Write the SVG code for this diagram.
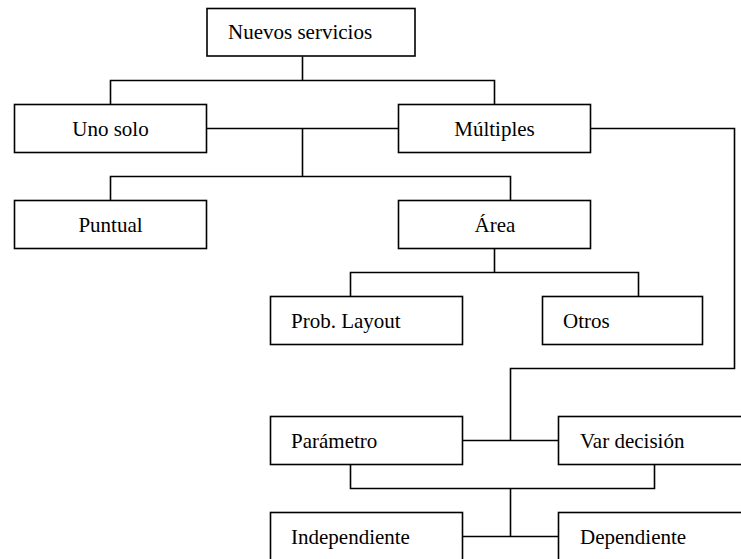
<svg xmlns="http://www.w3.org/2000/svg" width="741" height="559" viewBox="0 0 741 559">
<style>
rect{fill:#fff;stroke:#000;stroke-width:1.6}
.c path{fill:none;stroke:#000;stroke-width:1.6}
text{font-size:21px;fill:#000}
.m{text-anchor:middle}
</style>
<rect x="0" y="0" width="741" height="559" style="stroke:none"/>
<g class="c" id="connectors">
<path d="M302.5,56.5V80.5M110.5,104.5V80.5H494.5V104.5"/>
<path d="M206.5,128.5H398.5M302.5,128.5V176.5M110.5,200.5V176.5H510.5V200.5"/>
<path d="M494.5,248.5V272.5M350.5,296.5V272.5H638.5V296.5"/>
<path d="M590.5,128.5H734.5V368.5H510.5V440.5M462.5,440.5H558.5"/>
<path d="M350.5,464.5V488.5H654.5V464.5M510.5,488.5V536.5M462.5,536.5H558.5"/>
</g>
<g font-family="Liberation Serif, Times New Roman, DejaVu Serif, serif">
<g id="nuevos"><rect x="207" y="8.5" width="208" height="47.5"/><text x="228" y="39">Nuevos servicios</text></g>
<g id="uno"><rect x="14.5" y="104.5" width="192" height="48"/><text class="m" x="110.5" y="135.5">Uno solo</text></g>
<g id="multiples"><rect x="398.5" y="104.5" width="192" height="48"/><text class="m" x="494.5" y="135.5">Múltiples</text></g>
<g id="puntual"><rect x="14.5" y="200.5" width="192" height="48"/><text class="m" x="110.5" y="231.5">Puntual</text></g>
<g id="area"><rect x="398.5" y="200.5" width="192" height="48"/><text class="m" x="495" y="231.5">Área</text></g>
<g id="prob"><rect x="270.5" y="296.5" width="192" height="48"/><text x="291" y="327.5">Prob. Layout</text></g>
<g id="otros"><rect x="542.5" y="296.5" width="160" height="48"/><text x="563" y="327.5">Otros</text></g>
<g id="parametro"><rect x="270.5" y="416.5" width="192" height="48"/><text x="291" y="447.5">Parámetro</text></g>
<g id="var"><rect x="558.5" y="416.5" width="192" height="48"/><text x="580" y="447.5">Var decisión</text></g>
<g id="indep"><rect x="270.5" y="512.5" width="192" height="48"/><text x="291" y="543.5">Independiente</text></g>
<g id="dep"><rect x="558.5" y="512.5" width="192" height="48"/><text x="580" y="543.5">Dependiente</text></g>
</g>
</svg>
